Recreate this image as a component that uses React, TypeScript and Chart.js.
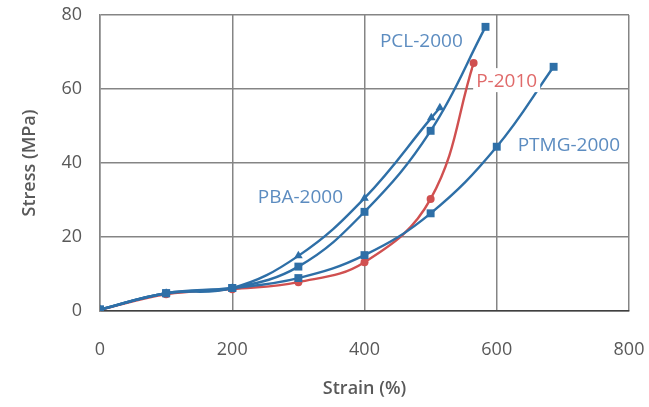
import React, { useEffect, useRef } from "react";
import { Chart, registerables } from "chart.js";

Chart.register(...registerables);

// ---- Data ----
const pclX = [0, 100, 200, 300, 400, 500, 583];
const pclY = [0.4, 4.8, 6.2, 12, 26.8, 48.7, 76.8];

const pbaX = [0, 100, 200, 300, 400, 501, 514];
const pbaY = [0.4, 4.8, 6.2, 14.9, 30.5, 52.2, 54.9];

const ptmgX = [0, 100, 200, 300, 400, 500, 600, 686];
const ptmgY = [0.4, 4.8, 6.2, 8.9, 15.1, 26.4, 44.4, 66];

const p2010X = [0, 100, 200, 300, 400, 500, 565];
const p2010Y = [0.3, 4.5, 5.9, 7.8, 13.2, 30.3, 67];

const xTicks = [0, 200, 400, 600, 800];
const yTicks = [0, 20, 40, 60, 80];

const seriesLabels = ["PCL-2000", "PBA-2000", "PTMG-2000", "P-2010"];
// label anchor positions (data coordinates)
const labelX = [486, 303, 709, 615];
const labelY = [73.2, 31, 44.9, 62.4];

const BLUE = "#2E6FA7";
const RED = "#D05050";
const BLUE_TEXT = "#5C8CC0";
const RED_TEXT = "#E06A6A";
const FONT = "'Open Sans', 'Noto Sans', sans-serif";

const zip = (xs: number[], ys: number[]) => xs.map((x, i) => ({ x, y: ys[i] }));

const labelPlugin = {
  id: "seriesLabels",
  afterDatasetsDraw(chart: any) {
    const { ctx, scales } = chart;
    ctx.save();
    ctx.font = `19px ${FONT}`;
    ctx.textAlign = "center";
    ctx.textBaseline = "middle";
    seriesLabels.forEach((t, i) => {
      const px = scales.x.getPixelForValue(labelX[i]);
      const py = scales.y.getPixelForValue(labelY[i]);
      const w = ctx.measureText(t).width;
      ctx.fillStyle = "#ffffff";
      ctx.fillRect(px - w / 2 - 3, py - 12, w + 6, 24);
      ctx.fillStyle = t === "P-2010" ? RED_TEXT : BLUE_TEXT;
      ctx.fillText(t, px, py + 1);
    });
    ctx.restore();
  },
};

export default function App() {
  const ref = useRef<HTMLCanvasElement | null>(null);

  useEffect(() => {
    if (!ref.current) return;
    const mk = (label: string, xs: number[], ys: number[], color: string, style: string, r: number) => ({
      label,
      data: zip(xs, ys),
      showLine: true,
      borderColor: color,
      backgroundColor: color,
      borderWidth: 2.4,
      pointStyle: style,
      pointRadius: r,
      pointBorderWidth: 0,
      tension: 0.4,
    });
    const chart = new Chart(ref.current, {
      type: "scatter",
      data: {
        datasets: [
          mk("PTMG-2000", ptmgX, ptmgY, BLUE, "rect", 5.6),
          mk("PCL-2000", pclX, pclY, BLUE, "rect", 5.6),
          mk("PBA-2000", pbaX, pbaY, BLUE, "triangle", 5),
          mk("P-2010", p2010X, p2010Y, RED, "circle", 4),
        ] as any,
      },
      options: {
        animation: false,
        responsive: false,
        devicePixelRatio: 1,
        layout: { padding: { left: 0, right: 20, top: 15, bottom: 0 } },
        plugins: { legend: { display: false }, tooltip: { enabled: false } },
        scales: {
          x: {
            type: "linear",
            min: 0,
            max: 800,
            afterBuildTicks: (s: any) => {
              s.ticks = xTicks.map((v) => ({ value: v }));
            },
            afterFit: (s: any) => {
              s.height = 96;
              s.paddingLeft = 0;
              s.paddingRight = 0;
            },
            grid: { color: "#858585", lineWidth: 1.5, drawTicks: false },
            border: { color: "#404040", width: 1.5 },
            ticks: { padding: 28, color: "#595959", font: { family: FONT, size: 18 } },
            title: {
              display: true,
              text: "Strain (%)",
              color: "#595959",
              font: { family: FONT, size: 18, weight: "600" },
              padding: { top: 0, bottom: 7 },
            },
          },
          y: {
            type: "linear",
            min: 0,
            max: 80,
            afterBuildTicks: (s: any) => {
              s.ticks = yTicks.map((v) => ({ value: v }));
            },
            afterFit: (s: any) => {
              s.width = 100;
              s.paddingTop = 0;
              s.paddingBottom = 0;
            },
            grid: { color: "#858585", lineWidth: 1.5, drawTicks: false },
            border: { color: "#858585", width: 1.5 },
            ticks: { padding: 18, color: "#595959", font: { family: FONT, size: 18 } },
            title: {
              display: true,
              text: "Stress (MPa)",
              color: "#595959",
              font: { family: FONT, size: 18, weight: "600" },
              padding: { top: 19, bottom: 0 },
            },
          },
        },
      } as any,
      plugins: [labelPlugin],
    });
    return () => chart.destroy();
  }, []);

  return (
    <div style={{ position: "fixed", left: 0, top: 0, width: 649, height: 407, background: "#fff" }}>
      <canvas ref={ref} width={649} height={407} style={{ width: 649, height: 407 }} />
    </div>
  );
}
